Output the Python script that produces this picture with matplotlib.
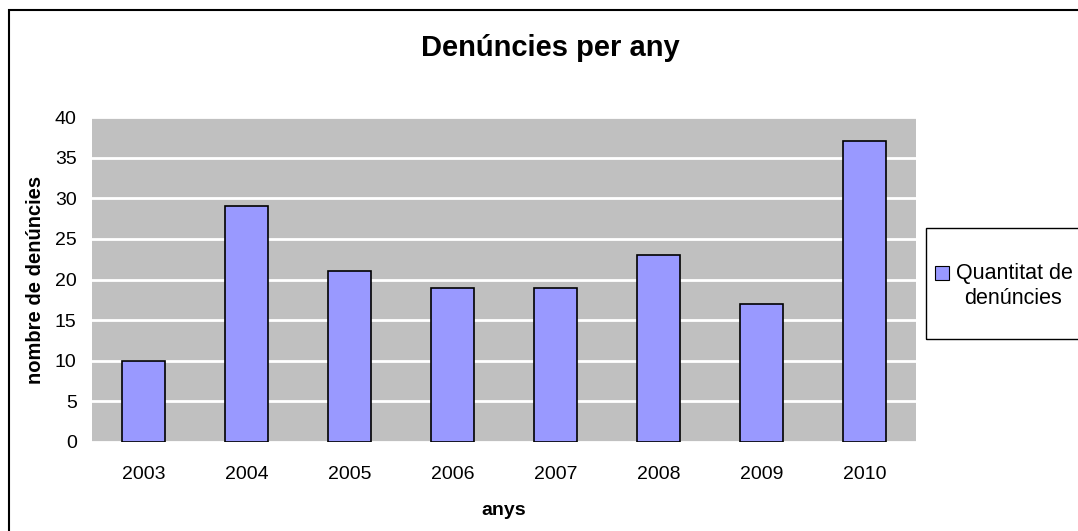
import matplotlib
matplotlib.use("Agg")
import matplotlib.pyplot as plt
from matplotlib.patches import Rectangle

plt.rcParams['font.family'] = ['Liberation Sans', 'DejaVu Sans']

years = ["2003", "2004", "2005", "2006", "2007", "2008", "2009", "2010"]
complaints = [10, 29, 21, 19, 19, 23, 17, 37]
y_ticks = [0, 5, 10, 15, 20, 25, 30, 35, 40]

W, H = 1078, 531
fig = plt.figure(figsize=(W / 100, H / 100), dpi=100)
fig.patch.set_facecolor("white")

ax = fig.add_axes([92 / W, 1 - 442 / H, (916 - 92) / W, (442 - 117) / H])
ax.set_facecolor("#C0C0C0")

x = range(len(years))
ax.bar(x, complaints, width=0.41, color="#9999FF", edgecolor="black",
       linewidth=1.2, zorder=3, label="Quantitat de\ndenúncies")

ax.set_xlim(-0.5, len(years) - 0.5)
ax.set_ylim(0, 40)
ax.set_yticks(y_ticks)
ax.set_xticks(list(x))
ax.set_xticklabels(years)
ax.tick_params(axis="both", length=0, labelsize=14)
ax.tick_params(axis="x", pad=17)
ax.tick_params(axis="y", pad=11)
ax.grid(axis="y", color="white", linewidth=2, zorder=1)
ax.set_axisbelow(True)
for s in ax.spines.values():
    s.set_visible(False)

ax.set_xlabel("anys", fontsize=14, fontweight="bold", labelpad=14)
ax.set_ylabel("nombre de denúncies", fontsize=14.5, fontweight="bold", labelpad=7)

fig.text(550 / W, 1 - 48 / H, "Denúncies per any", fontsize=21,
         fontweight="bold", ha="center", va="center")

# Outer chart frame (left and top edges visible)
fig.add_artist(Rectangle((9 / W, -0.1), 1.2, 1 - 10 / H + 0.1,
                         transform=fig.transFigure, fill=False,
                         edgecolor="black", linewidth=1.5))

# Legend box
fig.add_artist(Rectangle((926 / W, 1 - 339 / H), 0.3, (339 - 228) / H,
                         transform=fig.transFigure, fill=False,
                         edgecolor="black", linewidth=1.0))
fig.add_artist(Rectangle((935 / W, 1 - 280 / H), 14 / W, 14 / H,
                         transform=fig.transFigure, facecolor="#9999FF",
                         edgecolor="black", linewidth=0.8))
fig.text(956 / W, 1 - 274 / H, "Quantitat de", fontsize=15.5,
         ha="left", va="center")
fig.text(964 / W, 1 - 298 / H, "denúncies", fontsize=15.5,
         ha="left", va="center")

fig.savefig("out.png", dpi=100)
